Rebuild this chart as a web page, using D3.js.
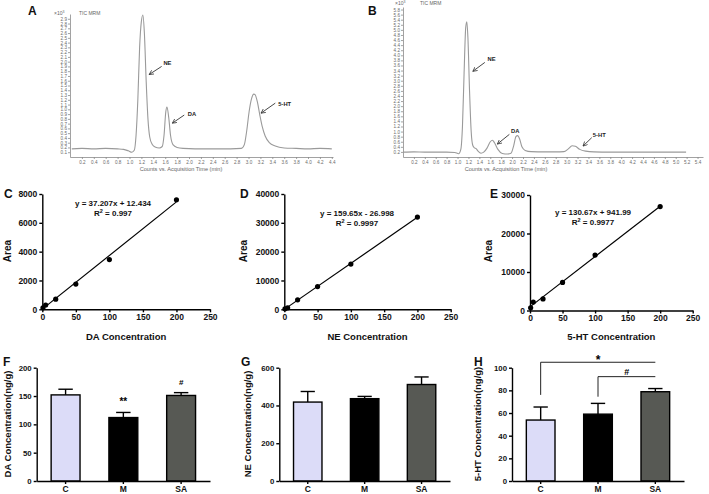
<!DOCTYPE html>
<html><head><meta charset="utf-8">
<script src="https://cdn.jsdelivr.net/npm/d3@7/dist/d3.min.js"></script>
<style>
body{margin:0;background:#fff}
svg{display:block}
text{font-family:"Liberation Sans",Arial,Helvetica,sans-serif}
</style>
</head><body>
<svg id="c" width="709" height="494"></svg>
<script>
// ---------------- DATA ----------------
// Chromatogram A (time in min, counts x10^3)
const timeA = [0.03,0.2,0.4,0.6,0.8,0.9,0.98,1.04,1.08,1.11,1.14,1.17,1.2,1.225,1.25,1.28,1.31,1.34,1.38,1.43,1.5,1.55,1.58,1.61,1.63,1.66,1.69,1.73,1.8,1.9,2.1,2.4,2.7,2.88,2.93,2.97,3.01,3.05,3.09,3.11,3.15,3.19,3.23,3.28,3.35,3.45,3.6,3.8,4.0,4.2,4.4];
const countsA = [0.17,0.18,0.17,0.18,0.17,0.16,0.13,0.10,0.14,0.45,1.2,2.3,2.85,2.98,2.6,1.6,0.8,0.42,0.27,0.21,0.19,0.22,0.45,0.95,1.05,0.82,0.45,0.26,0.2,0.18,0.17,0.17,0.17,0.18,0.26,0.55,0.95,1.22,1.32,1.31,1.15,0.88,0.64,0.44,0.3,0.23,0.19,0.18,0.17,0.18,0.17];
const yTicksA = [0.1,0.2,0.3,0.4,0.5,0.6,0.7,0.8,0.9,1.0,1.1,1.2,1.3,1.4,1.5,1.6,1.7,1.8,1.9,2.0,2.1,2.2,2.3,2.4,2.5,2.6,2.7,2.8,2.9];
const xTicksA = [0.2,0.4,0.6,0.8,1.0,1.2,1.4,1.6,1.8,2.0,2.2,2.4,2.6,2.8,3.0,3.2,3.4,3.6,3.8,4.0,4.2,4.4];

// Chromatogram B
const timeB = [0.0,0.2,0.4,0.6,0.8,0.95,1.02,1.06,1.09,1.12,1.15,1.17,1.19,1.22,1.25,1.28,1.31,1.34,1.38,1.43,1.48,1.54,1.6,1.64,1.68,1.74,1.82,1.92,1.98,2.03,2.07,2.1,2.14,2.18,2.24,2.35,2.6,2.8,2.95,3.03,3.1,3.16,3.24,3.35,3.5,3.8,4.2,4.6,5.0,5.19];
const countsB = [0.19,0.2,0.19,0.19,0.19,0.18,0.13,0.3,1.2,3.3,5.1,5.32,4.7,2.6,1.0,0.45,0.36,0.33,0.22,0.15,0.19,0.35,0.6,0.66,0.55,0.3,0.14,0.12,0.15,0.45,0.8,0.84,0.7,0.4,0.26,0.21,0.2,0.2,0.21,0.32,0.44,0.42,0.3,0.23,0.2,0.19,0.19,0.19,0.19,0.19];
const yTicksB = [0.2,0.4,0.6,0.8,1.0,1.2,1.4,1.6,1.8,2.0,2.2,2.4,2.6,2.8,3.0,3.2,3.4,3.6,3.8,4.0,4.2,4.4,4.6,4.8,5.0,5.2,5.4,5.6,5.8];
const xTicksB = [0.2,0.4,0.6,0.8,1.0,1.2,1.4,1.6,1.8,2.0,2.2,2.4,2.6,2.8,3.0,3.2,3.4,3.6,3.8,4.0,4.2,4.4,4.6,4.8,5.0,5.2,5.4];

// Calibration curves
const concDA = [1, 5, 20, 50, 100, 200];
const areaDA = [100, 300, 700, 1750, 3450, 7600];
const concNE = [1, 5, 20, 50, 100, 200];
const areaNE = [150, 500, 3300, 7900, 15700, 32000];
const concHT = [1, 5, 20, 50, 100, 200];
const areaHT = [700, 2200, 3000, 7300, 14400, 27000];
const fitSlope = [37.207, 159.65, 130.67];
const fitIntercept = [12.434, -26.998, 941.99];
const fitSpan = [0, 200];
const calibXTicks = [0, 50, 100, 150, 200, 250];
const calibYTicksDA = [0, 2000, 4000, 6000, 8000];
const calibYTicksNE = [0, 10000, 20000, 30000, 40000];
const calibYTicksHT = [0, 10000, 20000, 30000];

// Tissue concentrations
const groups = ["C", "M", "SA"];
const daMean = [152, 112, 151];
const daSem = [10, 9, 5];
const neMean = [418, 436, 511];
const neSem = [56, 12, 40];
const htMean = [53.8, 59, 78.8];
const htSem = [11.5, 9.5, 2.8];
const barColors = ["#dcdcf8", "#000000", "#575954"];
const barYTicksDA = [0, 50, 100, 150, 200];
const barYTicksNE = [0, 200, 400, 600];
const barYTicksHT = [0, 20, 40, 60, 80, 100];

// ---------------- DRAWING ----------------
const svg = d3.select("#c");
const FONT = '"Liberation Sans",Arial,sans-serif';

const defs = svg.append("defs");
defs.append("marker").attr("id","arr").attr("viewBox","0 0 8 8").attr("refX",7).attr("refY",4)
  .attr("markerWidth",5).attr("markerHeight",5).attr("markerUnits","userSpaceOnUse").attr("orient","auto")
  .append("path").attr("d","M0,0.5 L7,4 L0,7.5").attr("fill","none").attr("stroke","#333").attr("stroke-width",1.2);

function panelLetter(txt, x, y) {
  svg.append("text").attr("x", x).attr("y", y).text(txt)
    .attr("font-size", 12).attr("font-weight", "bold").attr("fill", "#111");
}

function chromatogram(cfg) {
  const g = svg.append("g");
  const x = cfg.x, y = cfg.y;
  const ya = d3.axisLeft(y).tickValues(cfg.yTicks).tickSize(2).tickSizeOuter(0).tickPadding(1).tickFormat(d3.format(".1f"));
  const yg = g.append("g").attr("transform", `translate(${x.range()[0]},0)`).call(ya);
  const xa = d3.axisBottom(x).tickValues(cfg.xTicks).tickSize(2).tickSizeOuter(0).tickPadding(1.5).tickFormat(d3.format(".1f"));
  const xg = g.append("g").attr("transform", `translate(0,${y.range()[0]})`).call(xa);
  [yg, xg].forEach(a => {
    a.selectAll("path,line").attr("stroke", "#8a8a8a").attr("stroke-width", 0.8);
    a.selectAll("text").attr("font-size", 4.6).attr("fill", "#6a6a6a").attr("font-family", FONT);
  });
  const pts = cfg.t.map((t, i) => [t, cfg.v[i]]);
  g.append("path").datum(pts)
    .attr("d", d3.line().x(d => x(d[0])).y(d => y(d[1])).curve(d3.curveMonotoneX))
    .attr("fill", "none").attr("stroke", "#9a9a9a").attr("stroke-width", 1.1);
  // header
  const h = g.append("text").attr("x", cfg.hx).attr("y", cfg.hy).attr("font-size", 5).attr("fill", "#666");
  h.append("tspan").text("×10");
  h.append("tspan").text("3").attr("font-size", 3.5).attr("dy", -2);
  g.append("text").attr("x", cfg.hx + 25).attr("y", cfg.hy).attr("font-size", 5).attr("fill", "#666").text("TIC MRM");
  g.append("text").attr("x", cfg.titleX).attr("y", 170.5).attr("text-anchor", "middle")
    .attr("font-size", 5.6).attr("fill", "#666").text("Counts vs. Acquisition Time (min)");
  cfg.notes.forEach(n => {
    g.append("line").attr("x1", x(n.tail[0])).attr("y1", y(n.tail[1]))
      .attr("x2", x(n.head[0])).attr("y2", y(n.head[1]))
      .attr("stroke", "#333").attr("stroke-width", 0.9).attr("marker-end", "url(#arr)");
    g.append("text").attr("x", x(n.text[0])).attr("y", y(n.text[1])).text(n.label)
      .attr("font-size", 5.8).attr("font-weight", "bold").attr("fill", "#222");
  });
}

chromatogram({
  x: d3.scaleLinear().domain([0, 4.42]).range([70, 333]),
  y: d3.scaleLinear().domain([0, 3.0]).range([157, 14]),
  t: timeA, v: countsA, yTicks: yTicksA, xTicks: xTicksA,
  hx: 54, hy: 15, titleX: 181,
  notes: [
    {label: "NE", text: [1.57, 1.92], tail: [1.54, 1.90], head: [1.33, 1.73]},
    {label: "DA", text: [1.98, 0.85], tail: [1.92, 0.88], head: [1.72, 0.71]},
    {label: "5-HT", text: [3.5, 1.07], tail: [3.45, 1.13], head: [3.21, 0.92]}
  ]
});
chromatogram({
  x: d3.scaleLinear().domain([0, 5.5]).range([403, 703]),
  y: d3.scaleLinear().domain([0, 5.9]).range([157, 7]),
  t: timeB, v: countsB, yTicks: yTicksB, xTicks: xTicksB,
  hx: 395, hy: 5, titleX: 506,
  notes: [
    {label: "NE", text: [1.55, 3.76], tail: [1.50, 3.72], head: [1.28, 3.37]},
    {label: "DA", text: [1.98, 0.94], tail: [1.95, 0.89], head: [1.73, 0.51]},
    {label: "5-HT", text: [3.48, 0.78], tail: [3.46, 0.76], head: [3.30, 0.43]}
  ]
});
panelLetter("A", 28, 15);
panelLetter("B", 368, 15);

function styleBoldAxis(a, fs) {
  a.selectAll("path,line").attr("stroke", "#000").attr("stroke-width", 1.4);
  a.selectAll("text").attr("font-size", fs).attr("font-weight", "bold").attr("fill", "#111").attr("font-family", FONT);
}

function calib(cfg) {
  const g = svg.append("g");
  const x = d3.scaleLinear().domain([0, 250]).range(cfg.xr);
  const y = d3.scaleLinear().domain(cfg.yd).range(cfg.yr);
  const xg = g.append("g").attr("transform", `translate(0,${cfg.yr[0]})`)
    .call(d3.axisBottom(x).tickValues(calibXTicks).tickSize(3).tickSizeOuter(0).tickPadding(1.5).tickFormat(d3.format("d")));
  const yg = g.append("g").attr("transform", `translate(${cfg.xr[0]},0)`)
    .call(d3.axisLeft(y).tickValues(cfg.yTicks).tickSize(3).tickSizeOuter(0).tickPadding(2).tickFormat(d3.format("d")));
  styleBoldAxis(xg, 8.5); styleBoldAxis(yg, 8.5);
  const k = cfg.i;
  g.append("line").attr("x1", x(fitSpan[0])).attr("y1", y(fitSlope[k] * fitSpan[0] + fitIntercept[k]))
    .attr("x2", x(fitSpan[1])).attr("y2", y(fitSlope[k] * fitSpan[1] + fitIntercept[k]))
    .attr("stroke", "#000").attr("stroke-width", 1.2);
  g.selectAll("circle.p").data(cfg.cx.map((c, i) => [c, cfg.cy[i]])).join("circle")
    .attr("cx", d => x(d[0])).attr("cy", d => y(d[1])).attr("r", 2.6).attr("fill", "#000");
  const sign = fitIntercept[k] < 0 ? " - " : " + ";
  g.append("text").attr("x", cfg.eqx).attr("y", cfg.eqy).attr("text-anchor", "middle")
    .attr("font-size", 8).attr("font-weight", "bold").attr("fill", "#111")
    .text(`y = ${fitSlope[k]}x${sign}${Math.abs(fitIntercept[k])}`);
  const r = g.append("text").attr("x", cfg.eqx).attr("y", cfg.eqy + 10).attr("text-anchor", "middle")
    .attr("font-size", 8).attr("font-weight", "bold").attr("fill", "#111");
  r.append("tspan").text("R");
  r.append("tspan").text("2").attr("font-size", 5.5).attr("dy", -3);
  r.append("tspan").text(" = " + cfg.r2).attr("dy", 3);
  g.append("text").attr("transform", `translate(${cfg.areaX},251) rotate(-90)`).attr("text-anchor", "middle")
    .attr("font-size", 10).attr("font-weight", "bold").attr("fill", "#111").text("Area");
  g.append("text").attr("x", (cfg.xr[0] + cfg.xr[1]) / 2 - 0).attr("y", 340).attr("text-anchor", "middle")
    .attr("font-size", 9.5).attr("font-weight", "bold").attr("fill", "#111").text(cfg.title);
}

calib({i: 0, xr: [42.3, 210], yd: [0, 8000], yr: [309.3, 194], yTicks: calibYTicksDA,
  cx: concDA, cy: areaDA, eqx: 113, eqy: 206, r2: "0.997", areaX: 11, title: "DA Concentration"});
calib({i: 1, xr: [284.3, 450.7], yd: [0, 40000], yr: [309.3, 194], yTicks: calibYTicksNE,
  cx: concNE, cy: areaNE, eqx: 357, eqy: 215.5, r2: "0.9997", areaX: 247, title: "NE Concentration"});
calib({i: 2, xr: [530, 692.7], yd: [0, 30000], yr: [310.5, 195], yTicks: calibYTicksHT,
  cx: concHT, cy: areaHT, eqx: 593, eqy: 214.5, r2: "0.9977", areaX: 492, title: "5-HT Concentration"});
panelLetter("C", 4, 198);
panelLetter("D", 240, 198);
panelLetter("E", 490, 198);

function bars(cfg) {
  const g = svg.append("g");
  const x = d3.scaleBand().domain(groups).range(cfg.xr).paddingInner(0.5).paddingOuter(0.25);
  const y = d3.scaleLinear().domain(cfg.yd).range([481, 367.7]);
  const data = groups.map((k, i) => ({k, m: cfg.mean[i], s: cfg.sem[i], c: barColors[i]}));
  const cap = x.bandwidth() * 0.5;
  g.selectAll("line.eb").data(data).join("line")
    .attr("x1", d => x(d.k) + x.bandwidth() / 2).attr("x2", d => x(d.k) + x.bandwidth() / 2)
    .attr("y1", d => y(d.m)).attr("y2", d => y(d.m + d.s)).attr("stroke", "#000").attr("stroke-width", 1.4);
  g.selectAll("line.cap").data(data).join("line")
    .attr("x1", d => x(d.k) + x.bandwidth() / 2 - cap / 2).attr("x2", d => x(d.k) + x.bandwidth() / 2 + cap / 2)
    .attr("y1", d => y(d.m + d.s)).attr("y2", d => y(d.m + d.s)).attr("stroke", "#000").attr("stroke-width", 1.4);
  g.selectAll("rect").data(data).join("rect")
    .attr("x", d => x(d.k)).attr("width", x.bandwidth())
    .attr("y", d => y(d.m)).attr("height", d => y(0) - y(d.m))
    .attr("fill", d => d.c).attr("stroke", "#000").attr("stroke-width", 1.4);
  const xg = g.append("g").attr("transform", `translate(0,481)`)
    .call(d3.axisBottom(x).tickSize(3).tickSizeOuter(0).tickPadding(1.5));
  const yg = g.append("g").attr("transform", `translate(${cfg.xr[0]},0)`)
    .call(d3.axisLeft(y).tickValues(cfg.yTicks).tickSize(3).tickSizeOuter(0).tickPadding(2));
  styleBoldAxis(xg, 8.5); styleBoldAxis(yg, 7.8);
  g.append("text").attr("transform", `translate(${cfg.labX},424) rotate(-90)`).attr("text-anchor", "middle")
    .attr("font-size", 9.5).attr("font-weight", "bold").attr("fill", "#111").text(cfg.ylab);
  return {x, y, g};
}

const F = bars({xr: [36.7, 210], yd: [0, 200], yTicks: barYTicksDA, mean: daMean, sem: daSem,
  labX: 11, ylab: "DA Concentration(ng/g)"});
const G = bars({xr: [279.3, 450], yd: [0, 600], yTicks: barYTicksNE, mean: neMean, sem: neSem,
  labX: 251, ylab: "NE Concentration(ng/g)"});
const H = bars({xr: [512, 684], yd: [0, 100], yTicks: barYTicksHT, mean: htMean, sem: htSem,
  labX: 481, ylab: "5-HT Concentration(ng/g)"});
panelLetter("F", 3, 366);
panelLetter("G", 241, 366);
panelLetter("H", 474, 366);

// significance marks
function cxOf(P, k) { return P.x(k) + P.x.bandwidth() / 2; }
F.g.append("text").attr("x", cxOf(F, "M")).attr("y", F.y(daMean[1] + daSem[1]) - 7).attr("text-anchor", "middle")
  .attr("font-size", 10).attr("font-weight", "bold").text("**");
F.g.append("text").attr("x", cxOf(F, "SA")).attr("y", F.y(daMean[2] + daSem[2]) - 8).attr("text-anchor", "middle")
  .attr("font-size", 8).attr("font-weight", "bold").text("#");

const brackets = [
  {from: "C", to: "SA", level: 104.8, leg: 76, mark: "*"},
  {from: "M", to: "SA", level: 92.1, leg: 74.4, mark: "#"}
];
brackets.forEach(b => {
  const x1 = cxOf(H, b.from), x2 = cxOf(H, b.to), yl = H.y(b.level);
  H.g.append("path").attr("d", `M${x1},${H.y(b.leg)} V${yl} H${x2}`)
    .attr("fill", "none").attr("stroke", "#222").attr("stroke-width", 1);
  H.g.append("text").attr("x", (x1 + x2) / 2).attr("y", yl - 2).attr("text-anchor", "middle")
    .attr("font-size", b.mark === "*" ? 12 : 9).attr("font-weight", "bold").attr("dy", b.mark === "*" ? 4 : 0).text(b.mark);
});
</script>
</body></html>
